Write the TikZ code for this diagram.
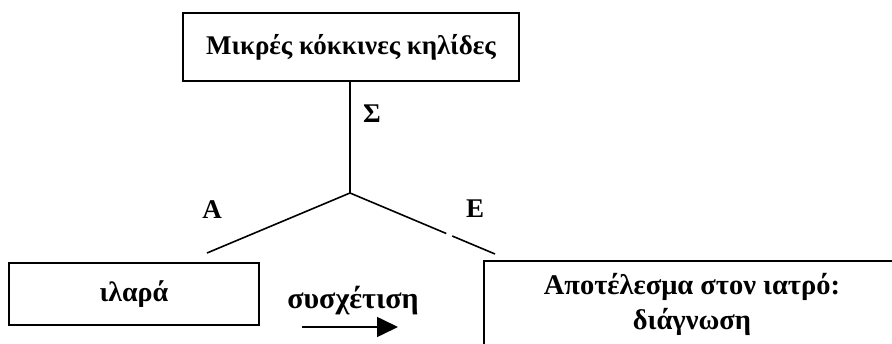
\documentclass[tikz,border=0pt]{standalone}
\usepackage{fontspec}
\setmainfont{Liberation Serif}
\usepackage{tikz}
\usetikzlibrary{arrows.meta,calc}

\tikzset{
  box/.style={draw,line width=1.6pt,inner sep=0pt,align=center},
  lbl/.style={font=\fontsize{27}{35}\selectfont\bfseries,inner sep=0pt},
  link/.style={line width=1.6pt}
}

\begin{document}
\begin{tikzpicture}[x=1pt,y=-1pt,font=\fontsize{27}{35}\selectfont\bfseries]
    \useasboundingbox (0,0) rectangle (892,344);
    \clip (0,0) rectangle (892,344);
    % boxes
    \node[box,minimum width=336pt,minimum height=68pt] (spots) at (351,47) {Μικρές κόκκινες κηλίδες};
    \node[box,minimum width=250pt,minimum height=62pt,font=\fontsize{28}{30}\selectfont\bfseries] (measles) at (134,294) {ιλαρά};
    \node[box,minimum width=416pt,minimum height=86pt,font=\fontsize{28.5}{35}\selectfont\bfseries] (diag) at (692,304)
      {Αποτέλεσμα στον ιατρό:\\διάγνωση};
    % branches
    \coordinate (fork) at (350,193);
    \coordinate (leftEnd) at (207,253);
    \coordinate (rightEnd) at (495,254);
    \draw[link] (spots.south -| fork) -- (fork);
    \draw[link] (fork) -- (leftEnd);
    \draw[link] (fork) -- ($(fork)!0.664!(rightEnd)$);
    \draw[link] ($(fork)!0.705!(rightEnd)$) -- (rightEnd);
    \node[lbl] (sigma) at (372,114) {Σ};
    \node[lbl] (alpha) at (212,210) {Α};
    \node[lbl] (epsilon) at (475,209) {Ε};
    % relation
    \node[lbl,anchor=base,font=\fontsize{30}{35}\selectfont\bfseries] (rel) at (353,309) {συσχέτιση};
    \coordinate (arrS) at (302,327);
    \coordinate (arrE) at (398,327);
    \draw[link,-{Triangle[length=21pt,width=20pt]}] (arrS) -- (arrE);
\end{tikzpicture}
\end{document}
